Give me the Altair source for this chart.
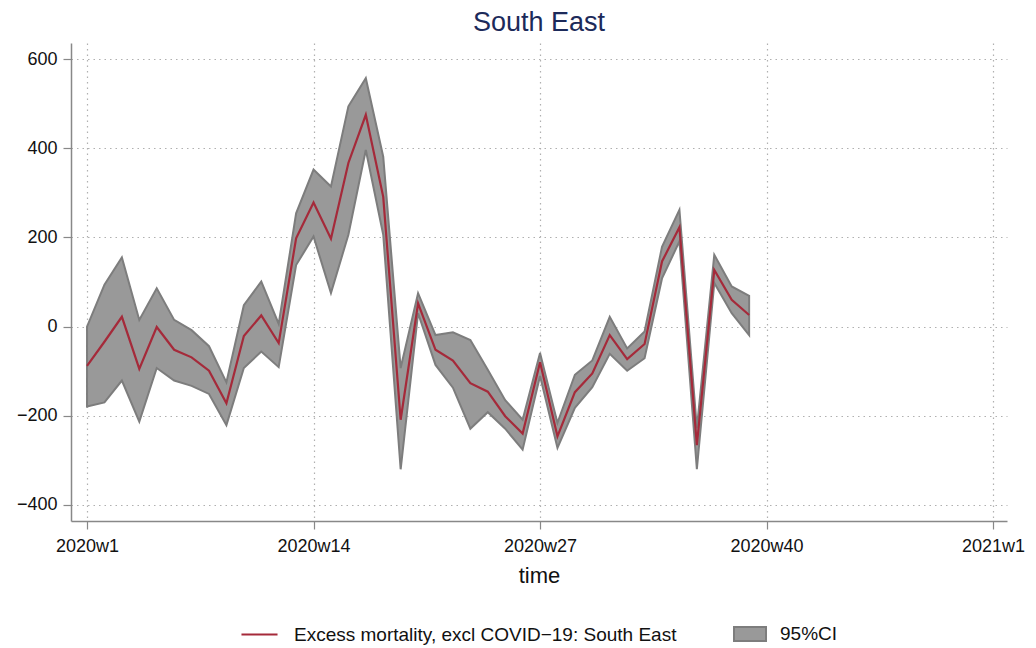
import altair as alt
import pandas as pd

weeks = list(range(1, 40))
excess = [-88, -34, 22, -95, -1, -52, -69, -99, -172, -21, 25, -37, 198, 278, 197, 367, 475, 291, -209, 52,
          -52, -76, -127, -146, -201, -240, -80, -246, -147, -105, -19, -73, -39, 146, 223, -266, 127, 60, 26]
ci_upper = [0, 94, 155, 15, 86, 15, -8, -44, -125, 48, 101, 6, 254, 352, 314, 494, 557, 381, -93, 75,
            -19, -13, -30, -97, -165, -209, -59, -216, -108, -76, 22, -49, -11, 179, 262, -228, 161, 90, 69]
ci_lower = [-179, -170, -121, -213, -93, -121, -133, -151, -221, -93, -56, -91, 138, 202, 75, 206, 396, 206, -320, 30,
            -86, -137, -229, -192, -229, -276, -111, -272, -182, -136, -61, -99, -71, 108, 191, -320, 98, 30, -19]
tick_weeks = [1, 14, 27, 40, 53]
y_ticks = [-400, -200, 0, 200, 400, 600]
line_label = "Excess mortality, excl COVID\u221219: South East"
band_label = "95%CI"

df = pd.DataFrame({"week": weeks, "excess": excess, "lo": ci_lower, "hi": ci_upper})
df["s_line"] = line_label
df["s_band"] = band_label

FONT = "Liberation Sans"
xscale = alt.Scale(domain=[0.08, 53.8], nice=False, zero=False)
yscale = alt.Scale(domain=[-436, 636], nice=False, zero=False)

xaxis = alt.Axis(values=tick_weeks, title="time",
                 labelExpr="datum.value == 53 ? '2021w1' : '2020w' + datum.value",
                 grid=True)
yaxis = alt.Axis(values=y_ticks, title=None, grid=True)

band = alt.Chart(df).mark_area(stroke="#7d7d7d", strokeWidth=2, opacity=1).encode(
    x=alt.X("week:Q", scale=xscale, axis=xaxis),
    y=alt.Y("lo:Q", scale=yscale, axis=yaxis),
    y2="hi:Q",
    fill=alt.Fill("s_band:N", scale=alt.Scale(domain=[band_label], range=["#999999"]),
                  legend=alt.Legend(title=None, orient="none", legendX=662, legendY=574,
                                    symbolType="M-1,-0.44L1,-0.44L1,0.44L-1,0.44Z",
                                    symbolSize=1024, symbolStrokeColor="#7d7d7d",
                                    symbolStrokeWidth=2, symbolOpacity=1, labelOffset=13,
                                    labelFontSize=19, labelFont=FONT, labelColor="#111111",
                                    labelLimit=0, padding=0)),
)

line = alt.Chart(df).mark_line(strokeWidth=2.2).encode(
    x=alt.X("week:Q", scale=xscale),
    y=alt.Y("excess:Q", scale=yscale),
    color=alt.Color("s_line:N", scale=alt.Scale(domain=[line_label], range=["#a52a3a"]),
                    legend=alt.Legend(title=None, orient="none", legendX=169, legendY=572,
                                      symbolType="stroke", symbolSize=1300,
                                      symbolStrokeWidth=2, labelOffset=15,
                                      labelFontSize=19, labelFont=FONT, labelColor="#111111",
                                      labelLimit=0, padding=0)),
)

chart = alt.layer(band, line).properties(
    width=936, height=478,
    title=alt.Title("South East", fontSize=27, font=FONT, fontWeight="normal",
                    color="#1c2a5a", offset=6, anchor="middle"),
    autosize=alt.AutoSizeParams(type="none"),
    padding={"left": 63, "top": 35, "right": 21, "bottom": 127},
).configure_view(stroke=None).configure_axis(
    labelFont=FONT, labelFontSize=18, labelColor="#111111",
    titleFont=FONT, titleFontSize=22, titleFontWeight="normal", titleColor="#111111",
    domainColor="#888888", domainWidth=1.5, tickColor="#888888", tickSize=8, tickWidth=1.2,
    gridColor="#b0b0b0", gridDash=[1.5, 4], gridWidth=1.2,
).configure_axisX(titlePadding=10, labelPadding=8, labelAlign="center").configure_axisY(labelPadding=6)

chart.save("out.html", embed_options={"renderer": "svg", "actions": False})
